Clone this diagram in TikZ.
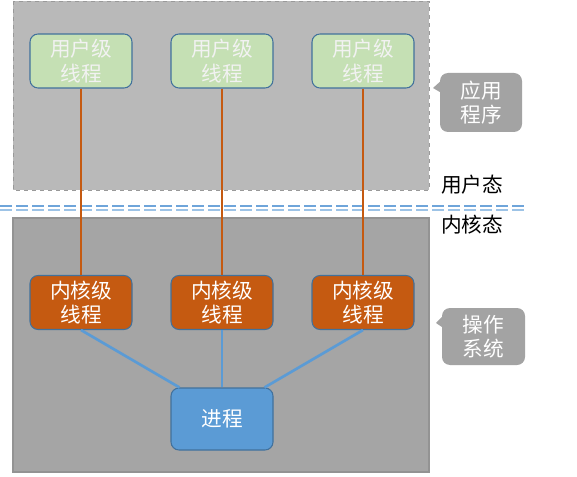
\documentclass[tikz,border=0pt]{standalone}
\usepackage{fontspec}
\newfontfamily\cjk{Noto Sans CJK SC}
\usetikzlibrary{positioning}

\definecolor{userfill}{HTML}{B9B9B9}
\definecolor{kernfill}{HTML}{A5A5A5}
\definecolor{tipfill}{HTML}{A3A3A3}
\definecolor{greenfill}{HTML}{C5E0B4}
\definecolor{orangefill}{HTML}{C55A11}
\definecolor{bluefill}{HTML}{5B9BD5}
\definecolor{boxline}{HTML}{41719C}
\definecolor{modeline}{HTML}{6FA5DA}
\definecolor{modelight}{HTML}{9DC3E6}

\newcommand\labelfont{\cjk\fontsize{15.5}{18.5}\selectfont}

\tikzset{
    threadbox/.style={
        draw=boxline,
        line width=0.8pt,
        rounded corners=6pt,
        minimum width=76.5pt,
        minimum height=40.5pt,
        align=center,
        text=white,
        font=\labelfont
    },
    userthread/.style={threadbox, fill=greenfill, text=white!95!black},
    kernthread/.style={threadbox, fill=orangefill},
    procbox/.style={threadbox, fill=bluefill, minimum height=46.5pt},
    tipbox/.style={
        fill=tipfill,
        rounded corners=6pt,
        minimum width=61.5pt,
        minimum height=43.5pt,
        align=center,
        text=white,
        font=\labelfont
    },
    modeedge/.style={line width=1.5pt, dash pattern=on 9pt off 3pt},
    userlink/.style={draw=orangefill, line width=2pt},
    proclink/.style={draw=bluefill, line width=2pt}
}

\begin{document}
\begin{tikzpicture}[x=0.75pt, y=-0.75pt]
    \useasboundingbox (0,0) rectangle (577,477);

    % user space and kernel space
    \draw[dashed, draw=gray!80, fill=userfill] (13,1) rectangle (429,190);
    \draw[draw=gray!85, fill=kernfill, line width=0.8pt] (13,218) rectangle (429,472);

    % mode boundary
    \draw[modeedge, draw=modeline] (0,205.5) -- (524,205.5);
    \draw[modeedge, draw=modelight] (0,209.5) -- (524,209.5);

    \node[font=\labelfont] (umode) at (472,185) {用户态};
    \node[font=\labelfont] (kmode) at (472,225) {内核态};

    % threads
    \foreach \n/\x in {1/81, 2/222, 3/363} {
        \node[userthread] (u\n) at (\x,61) {用户级\\线程};
        \node[kernthread] (k\n) at (\x,302.5) {内核级\\线程};
        \draw[userlink] (u\n) -- (k\n);
    }

    \node[procbox] (proc) at (222,419) {进程};

    \draw[proclink] (k1.south) -- ([xshift=6.75pt]proc.north west);
    \draw[proclink] (k2.south) -- (proc.north);
    \draw[proclink] (k3.south) -- ([xshift=-6.75pt]proc.north east);

    % side notes
    \node[tipbox, minimum height=44.25pt] (app) at (481,102.5) {应用\\程序};
    \coordinate (apptip) at (433,88);
    \fill[tipfill] (apptip) -- ([xshift=1pt, yshift=-6pt]app.north west)
        -- ([xshift=1pt, yshift=-15pt]app.north west) -- cycle;

    \node[tipbox, minimum width=62.25pt, minimum height=42.75pt] (os) at (483.5,336.5) {操作\\系统};
    \coordinate (ostip) at (436,323);
    \fill[tipfill] (ostip) -- ([xshift=1pt, yshift=-6pt]os.north west)
        -- ([xshift=1pt, yshift=-15pt]os.north west) -- cycle;
\end{tikzpicture}
\end{document}
